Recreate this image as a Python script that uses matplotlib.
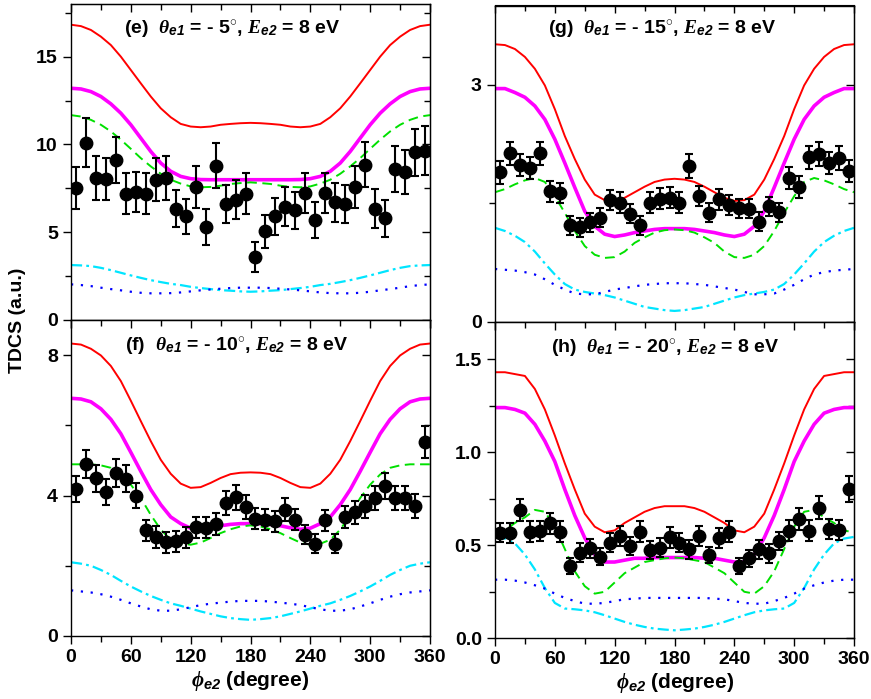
import numpy as np
import matplotlib
matplotlib.use("Agg")
import matplotlib.pyplot as plt
from matplotlib.ticker import MultipleLocator, FormatStrFormatter

plt.rcParams['font.family'] = ['Liberation Sans', 'DejaVu Sans']
plt.rcParams['font.weight'] = 'bold'
plt.rcParams['mathtext.fontset'] = 'custom'
plt.rcParams['mathtext.it'] = 'Liberation Serif:italic'
plt.rcParams['mathtext.rm'] = 'Liberation Sans:bold'
plt.rcParams['mathtext.sf'] = 'Liberation Sans:bold:italic'
plt.rcParams['mathtext.bf'] = 'Liberation Sans:bold'
plt.rcParams['lines.scale_dashes'] = False

# ---------------- data ----------------
phi_exp = [5, 15, 25, 35, 45, 55, 65, 75, 85, 95, 105, 115, 125, 135, 145, 155, 165, 175,
           185, 195, 205, 215, 225, 235, 245, 255, 265, 275, 285, 295, 305, 315, 325, 335, 345, 355]
phi_th = [0, 10, 20, 30, 40, 50, 60, 70, 80, 90, 100, 110, 120, 130, 140, 150, 160, 170, 180,
          190, 200, 210, 220, 230, 240, 250, 260, 270, 280, 290, 300, 310, 320, 330, 340, 350, 360]

# panel (e)
exp_e = [7.5, 10.1, 8.1, 8.05, 9.1, 7.2, 7.3, 7.2, 8.0, 8.1, 6.35, 5.9, 7.6, 5.3, 8.8, 6.6, 6.85, 7.2,
         3.6, 5.05, 5.9, 6.45, 6.25, 7.25, 5.7, 7.25, 6.7, 6.6, 7.6, 8.85, 6.35, 5.8, 8.6, 8.45, 9.55, 9.65]
err_e = [1.2, 1.4, 1.25, 1.2, 1.3, 1.15, 1.15, 1.15, 1.2, 1.25, 1.05, 1.0, 1.2, 1.0, 1.3, 1.1, 1.1, 1.15,
         0.85, 0.95, 1.05, 1.1, 1.05, 1.15, 1.05, 1.15, 1.1, 1.1, 1.2, 1.3, 1.1, 1.05, 1.3, 1.25, 1.35, 1.4]
red_e = [16.82, 16.74, 16.52, 16.14, 15.66, 15.0, 14.24, 13.48, 12.73, 12.06, 11.55, 11.17, 11.02, 10.98, 11.02,
         11.12, 11.17, 11.21, 11.23, 11.21, 11.17, 11.12, 11.02, 10.98, 11.02, 11.17, 11.55, 12.06, 12.73, 13.48,
         14.24, 15.0, 15.66, 16.14, 16.52, 16.74, 16.82]
mag_e = [13.2, 13.16, 13.01, 12.73, 12.31, 11.78, 11.12, 10.36, 9.6, 8.94, 8.47, 8.18, 8.05, 8.0, 7.99,
         7.99, 7.99, 7.99, 7.99, 7.99, 7.99, 7.99, 7.99, 8.0, 8.05, 8.18, 8.47, 8.94, 9.6, 10.36,
         11.12, 11.78, 12.31, 12.73, 13.01, 13.16, 13.2]
grn_e = [11.67, 11.59, 11.4, 11.12, 10.74, 10.27, 9.75, 9.22, 8.75, 8.33, 7.99, 7.77, 7.61, 7.56, 7.58,
         7.65, 7.75, 7.8, 7.84, 7.8, 7.75, 7.65, 7.58, 7.56, 7.61, 7.77, 7.99, 8.33, 8.75, 9.22,
         9.75, 10.27, 10.74, 11.12, 11.4, 11.59, 11.67]
cyn_e = [3.13, 3.11, 3.07, 2.97, 2.84, 2.69, 2.54, 2.4, 2.27, 2.16, 2.06, 1.99, 1.89, 1.82, 1.76,
         1.70, 1.67, 1.63, 1.61, 1.63, 1.67, 1.70, 1.76, 1.82, 1.89, 1.99, 2.06, 2.16, 2.27, 2.4,
         2.54, 2.69, 2.84, 2.97, 3.07, 3.11, 3.13]
blu_e = [2.03, 1.99, 1.93, 1.84, 1.76, 1.69, 1.61, 1.55, 1.52, 1.52, 1.53, 1.57, 1.63, 1.69, 1.74,
         1.78, 1.82, 1.84, 1.84, 1.84, 1.82, 1.78, 1.74, 1.69, 1.63, 1.57, 1.53, 1.52, 1.52, 1.55,
         1.61, 1.69, 1.76, 1.84, 1.93, 1.99, 2.03]

# panel (f)
exp_f = [4.19, 4.9, 4.49, 4.1, 4.63, 4.48, 4.0, 3.01, 2.82, 2.67, 2.7, 2.81, 3.1, 3.08, 3.19, 3.79, 3.95, 3.67,
         3.34, 3.31, 3.27, 3.6, 3.31, 2.89, 2.63, 3.29, 2.63, 3.39, 3.52, 3.7, 3.93, 4.27, 3.93, 3.93, 3.71, 5.52]
err_f = [0.38, 0.4, 0.38, 0.36, 0.4, 0.38, 0.36, 0.3, 0.3, 0.3, 0.3, 0.3, 0.3, 0.3, 0.3, 0.34, 0.36, 0.34,
         0.3, 0.3, 0.3, 0.32, 0.3, 0.28, 0.28, 0.3, 0.28, 0.3, 0.32, 0.33, 0.35, 0.38, 0.35, 0.35, 0.34, 0.45]
red_f = [8.33, 8.30, 8.18, 7.99, 7.69, 7.26, 6.7, 6.12, 5.55, 5.02, 4.62, 4.34, 4.22, 4.24, 4.36,
         4.5, 4.61, 4.65, 4.66, 4.65, 4.61, 4.5, 4.36, 4.24, 4.22, 4.34, 4.62, 5.02, 5.55, 6.12,
         6.7, 7.26, 7.69, 7.99, 8.18, 8.30, 8.33]
mag_f = [6.77, 6.75, 6.67, 6.47, 6.17, 5.76, 5.23, 4.69, 4.17, 3.74, 3.39, 3.2, 3.07, 3.04, 3.08,
         3.14, 3.18, 3.2, 3.2, 3.2, 3.18, 3.14, 3.08, 3.04, 3.07, 3.2, 3.39, 3.74, 4.17, 4.69,
         5.23, 5.76, 6.17, 6.47, 6.67, 6.75, 6.77]
grn_f = [4.89, 4.89, 4.89, 4.86, 4.79, 4.6, 4.31, 3.93, 3.45, 3.03, 2.74, 2.63, 2.6, 2.66, 2.79,
         2.93, 3.04, 3.12, 3.15, 3.12, 3.04, 2.93, 2.79, 2.66, 2.6, 2.63, 2.74, 3.03, 3.45, 3.93,
         4.31, 4.6, 4.79, 4.86, 4.89, 4.89, 4.89]
cyn_f = [2.1, 2.06, 2.0, 1.88, 1.74, 1.57, 1.41, 1.27, 1.14, 1.03, 0.93, 0.86, 0.78, 0.7, 0.63,
         0.56, 0.51, 0.48, 0.46, 0.48, 0.51, 0.56, 0.63, 0.7, 0.78, 0.86, 0.93, 1.03, 1.14, 1.27,
         1.41, 1.57, 1.74, 1.88, 2.0, 2.06, 2.1]
blu_f = [1.3, 1.27, 1.24, 1.19, 1.12, 1.03, 0.93, 0.84, 0.76, 0.72, 0.72, 0.76, 0.82, 0.88, 0.92,
         0.95, 0.98, 1.0, 1.0, 1.0, 0.98, 0.95, 0.92, 0.88, 0.82, 0.76, 0.72, 0.72, 0.76, 0.84,
         0.93, 1.03, 1.12, 1.19, 1.24, 1.27, 1.3]

# panel (g)
exp_g = [1.89, 2.13, 1.98, 1.95, 2.13, 1.65, 1.63, 1.22, 1.2, 1.26, 1.32, 1.54, 1.51, 1.37, 1.22, 1.51, 1.56, 1.57,
         1.51, 1.97, 1.59, 1.38, 1.55, 1.48, 1.44, 1.43, 1.27, 1.46, 1.39, 1.82, 1.71, 2.08, 2.12, 2.01, 2.07, 1.91]
err_g = [0.14, 0.15, 0.14, 0.14, 0.15, 0.13, 0.13, 0.12, 0.12, 0.12, 0.12, 0.13, 0.13, 0.12, 0.12, 0.13, 0.13, 0.13,
         0.13, 0.15, 0.13, 0.12, 0.13, 0.13, 0.12, 0.12, 0.12, 0.12, 0.12, 0.14, 0.14, 0.15, 0.15, 0.14, 0.15, 0.14]
red_g = [3.51, 3.5, 3.45, 3.35, 3.2, 2.99, 2.69, 2.35, 2.06, 1.8, 1.61, 1.54, 1.53, 1.57, 1.64,
         1.71, 1.77, 1.8, 1.81, 1.8, 1.77, 1.71, 1.64, 1.57, 1.53, 1.54, 1.61, 1.8, 2.06, 2.35,
         2.69, 2.99, 3.2, 3.35, 3.45, 3.5, 3.51]
mag_g = [2.95, 2.95, 2.9, 2.84, 2.73, 2.56, 2.31, 2.01, 1.7, 1.4, 1.21, 1.11, 1.08, 1.1, 1.13,
         1.15, 1.17, 1.18, 1.18, 1.18, 1.17, 1.15, 1.13, 1.1, 1.08, 1.11, 1.21, 1.4, 1.7, 2.01,
         2.31, 2.56, 2.73, 2.84, 2.9, 2.95, 2.95]
grn_g = [1.64, 1.68, 1.74, 1.79, 1.82, 1.77, 1.59, 1.38, 1.15, 0.96, 0.85, 0.81, 0.82, 0.89, 1.0,
         1.07, 1.13, 1.16, 1.17, 1.16, 1.13, 1.07, 1.0, 0.89, 0.82, 0.81, 0.85, 0.96, 1.15, 1.38,
         1.59, 1.77, 1.82, 1.79, 1.74, 1.68, 1.64]
cyn_g = [1.19, 1.15, 1.09, 1.01, 0.89, 0.74, 0.6, 0.48, 0.41, 0.38, 0.36, 0.34, 0.31, 0.27, 0.23,
         0.19, 0.17, 0.15, 0.14, 0.15, 0.17, 0.19, 0.23, 0.27, 0.31, 0.34, 0.36, 0.38, 0.41, 0.48,
         0.6, 0.74, 0.89, 1.01, 1.09, 1.15, 1.19]
blu_g = [0.67, 0.66, 0.65, 0.63, 0.6, 0.54, 0.47, 0.41, 0.36, 0.35, 0.35, 0.38, 0.41, 0.43, 0.45,
         0.47, 0.48, 0.49, 0.49, 0.49, 0.48, 0.47, 0.45, 0.43, 0.41, 0.38, 0.35, 0.35, 0.36, 0.41,
         0.47, 0.54, 0.6, 0.63, 0.65, 0.66, 0.67]

# panel (h)
exp_h = [0.568, 0.565, 0.69, 0.573, 0.577, 0.618, 0.573, 0.389, 0.46, 0.484, 0.439, 0.514, 0.55, 0.496, 0.573, 0.475,
         0.487, 0.543, 0.514, 0.478, 0.55, 0.448, 0.538, 0.573, 0.389, 0.43, 0.478, 0.457, 0.523, 0.579, 0.64, 0.579,
         0.703, 0.588, 0.582, 0.80]
err_h = [0.05, 0.055, 0.06, 0.055, 0.055, 0.055, 0.055, 0.045, 0.05, 0.05, 0.045, 0.05, 0.055, 0.05, 0.055, 0.05,
         0.05, 0.055, 0.05, 0.05, 0.055, 0.045, 0.055, 0.055, 0.045, 0.045, 0.05, 0.05, 0.05, 0.055, 0.06, 0.055,
         0.06, 0.055, 0.055, 0.07]
red_h = [1.43, 1.43, 1.42, 1.41, 1.34, 1.23, 1.09, 0.94, 0.8, 0.67, 0.6, 0.57, 0.58, 0.62, 0.65,
         0.68, 0.7, 0.71, 0.71, 0.71, 0.7, 0.68, 0.65, 0.62, 0.58, 0.57, 0.6, 0.67, 0.8, 0.94,
         1.09, 1.23, 1.34, 1.41, 1.42, 1.43, 1.43]
mag_h = [1.24, 1.24, 1.23, 1.21, 1.15, 1.06, 0.95, 0.8, 0.66, 0.54, 0.45, 0.41, 0.41, 0.42, 0.43,
         0.43, 0.434, 0.434, 0.434, 0.434, 0.434, 0.43, 0.43, 0.42, 0.41, 0.41, 0.45, 0.54, 0.66, 0.8,
         0.95, 1.06, 1.15, 1.21, 1.23, 1.24, 1.24]
grn_h = [0.568, 0.58, 0.62, 0.65, 0.69, 0.68, 0.6, 0.48, 0.36, 0.28, 0.24, 0.25, 0.3, 0.35, 0.38,
         0.41, 0.42, 0.43, 0.434, 0.43, 0.42, 0.41, 0.38, 0.35, 0.3, 0.25, 0.24, 0.28, 0.36, 0.48,
         0.6, 0.68, 0.69, 0.65, 0.62, 0.58, 0.568]
cyn_h = [0.545, 0.536, 0.51, 0.45, 0.37, 0.27, 0.19, 0.16, 0.156, 0.15, 0.14, 0.124, 0.106, 0.088, 0.073,
         0.061, 0.052, 0.047, 0.043, 0.047, 0.052, 0.061, 0.073, 0.088, 0.106, 0.124, 0.14, 0.15, 0.156, 0.16,
         0.19, 0.27, 0.37, 0.45, 0.51, 0.536, 0.545]
blu_h = [0.315, 0.315, 0.31, 0.3, 0.285, 0.267, 0.24, 0.217, 0.2, 0.186, 0.186, 0.19, 0.2, 0.21, 0.213,
         0.217, 0.217, 0.217, 0.217, 0.217, 0.217, 0.217, 0.213, 0.21, 0.2, 0.19, 0.186, 0.186, 0.2, 0.217,
         0.24, 0.267, 0.285, 0.3, 0.31, 0.315, 0.315]

titles = {
    'e': r'(e)  $\theta_{\mathsf{e1}}$ = - 5$^{\circ}$, $E_{\mathsf{e2}}$ = 8 eV',
    'f': r'(f)  $\theta_{\mathsf{e1}}$ = - 10$^{\circ}$, $E_{\mathsf{e2}}$ = 8 eV',
    'g': r'(g)  $\theta_{\mathsf{e1}}$ = - 15$^{\circ}$, $E_{\mathsf{e2}}$ = 8 eV',
    'h': r'(h)  $\theta_{\mathsf{e1}}$ = - 20$^{\circ}$, $E_{\mathsf{e2}}$ = 8 eV',
}

# ---------------- figure ----------------
fig = plt.figure(figsize=(8.71, 6.99), dpi=100)
W, H = 871.0, 699.0

def axes_px(x0, x1, ytop, ybot):
    return fig.add_axes([x0 / W, 1 - ybot / H, (x1 - x0) / W, (ybot - ytop) / H])

ax_e = axes_px(71, 430, 4, 320)
ax_f = axes_px(71, 430, 320, 636)
ax_g = axes_px(495, 854, 5.5, 322)
ax_h = axes_px(495, 854, 322, 638.3)

panels = [
    (ax_e, 'e', exp_e, err_e, red_e, mag_e, grn_e, cyn_e, blu_e, (0, 18), 5, 2.5, None, (0.45, 0.918), False),
    (ax_f, 'f', exp_f, err_f, red_f, mag_f, grn_f, cyn_f, blu_f, (0, 9), 4, 2, None, (0.462, 0.915), True),
    (ax_g, 'g', exp_g, err_g, red_g, mag_g, grn_g, cyn_g, blu_g, (0, 4), 3, 1.5, None, (0.465, 0.925), False),
    (ax_h, 'h', exp_h, err_h, red_h, mag_h, grn_h, cyn_h, blu_h, (0, 1.7), 0.5, 0.25, '%.1f', (0.473, 0.917), True),
]

for (ax, key, ex, er, rd, mg, gr, cy, bl, ylim, maj, mnr, fmt, tpos, xlab) in panels:
    ax.plot(phi_th, rd, color='#ff0000', lw=1.4, zorder=2)
    ax.plot(phi_th, mg, color='#ff00ff', lw=2.6, zorder=2)
    ax.plot(phi_th, gr, color='#00e000', lw=1.4, dashes=(7, 4), zorder=2)
    ax.plot(phi_th, cy, color='#00e5ff', lw=1.6, dashes=(8, 3, 2, 3), zorder=2)
    ax.plot(phi_th, bl, color='#0000ff', lw=1.6, dashes=(1.6, 5.5), zorder=2)
    ax.errorbar(phi_exp, ex, yerr=er, fmt='o', color='black', ms=9, elinewidth=1.5,
                capsize=3, capthick=1.5, zorder=4)
    ax.set_xlim(0, 360)
    ax.set_ylim(*ylim)
    ax.xaxis.set_major_locator(MultipleLocator(60))
    ax.xaxis.set_minor_locator(MultipleLocator(30))
    ax.yaxis.set_major_locator(MultipleLocator(maj))
    ax.yaxis.set_minor_locator(MultipleLocator(mnr))
    if fmt:
        ax.yaxis.set_major_formatter(FormatStrFormatter(fmt))
    ax.tick_params(which='both', direction='out', labelsize=14, width=1,
                   top=False, right=False)
    ax.tick_params(which='major', length=6)
    ax.tick_params(which='minor', length=4)
    # top / right ticks pointing inward
    sec_x = ax.secondary_xaxis('top')
    sec_x.xaxis.set_major_locator(MultipleLocator(60))
    sec_x.xaxis.set_minor_locator(MultipleLocator(30))
    sec_x.tick_params(which='both', direction='in', labeltop=False, width=1)
    sec_x.tick_params(which='major', length=6)
    sec_x.tick_params(which='minor', length=4)
    sec_y = ax.secondary_yaxis('right')
    sec_y.yaxis.set_major_locator(MultipleLocator(maj))
    sec_y.yaxis.set_minor_locator(MultipleLocator(mnr))
    sec_y.tick_params(which='both', direction='in', labelright=False, width=1)
    sec_y.tick_params(which='major', length=6)
    sec_y.tick_params(which='minor', length=4)
    for lab in ax.get_xticklabels() + ax.get_yticklabels():
        lab.set_fontweight('bold')
    if not xlab:
        ax.tick_params(axis='x', labelbottom=False)
    for sp in ax.spines.values():
        sp.set_linewidth(1.0)
    ax.text(tpos[0], tpos[1], titles[key], transform=ax.transAxes, ha='center', va='center',
            fontsize=14, fontweight='bold')

fig.text(18 / W, 1 - 320 / H, 'TDCS (a.u.)', rotation=90, ha='center', va='center',
         fontsize=14, fontweight='bold')
fig.text(250 / W, 1 - 681 / H, r'$\phi_{\mathsf{e2}}$ (degree)', ha='center', va='center',
         fontsize=15, fontweight='bold')
fig.text(675 / W, 1 - 683 / H, r'$\phi_{\mathsf{e2}}$ (degree)', ha='center', va='center',
         fontsize=15, fontweight='bold')

fig.savefig('out.png', dpi=100)
